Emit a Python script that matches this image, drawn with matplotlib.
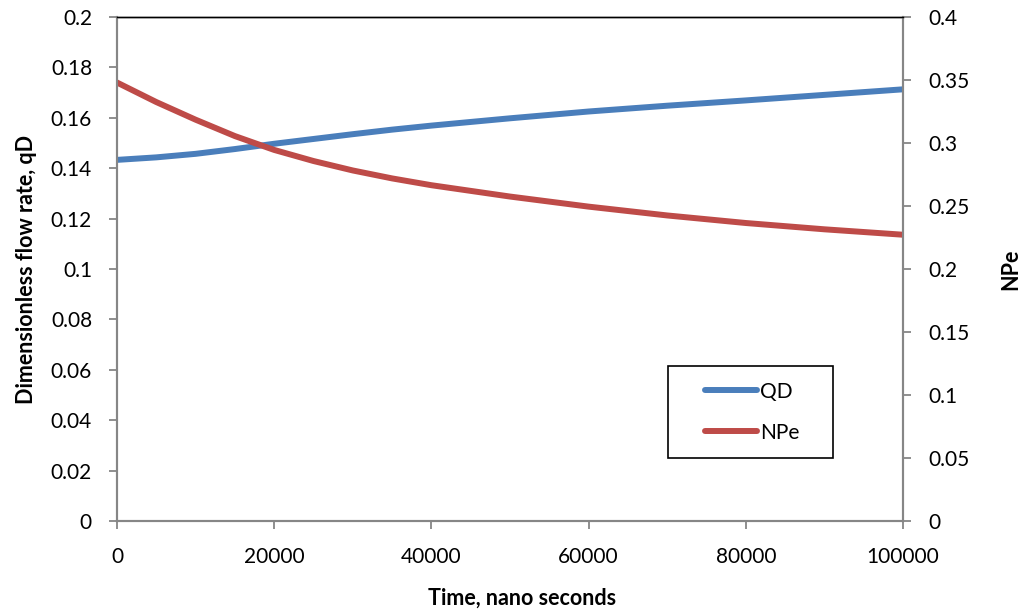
import matplotlib
matplotlib.use("Agg")
import matplotlib.pyplot as plt
from matplotlib.patches import Rectangle
from matplotlib.ticker import FuncFormatter

# Time in nanoseconds
time_ns = [0, 5000, 10000, 15000, 20000, 25000, 30000, 35000, 40000, 50000,
           60000, 70000, 80000, 90000, 100000]
# Dimensionless flow rate
qd = [0.1433, 0.1443, 0.1457, 0.1476, 0.1497, 0.1516, 0.1535, 0.1553, 0.1569,
      0.1598, 0.1625, 0.1648, 0.1669, 0.1691, 0.1713]
# Peclet number
npe = [0.348, 0.3325, 0.3185, 0.3055, 0.2945, 0.2857, 0.2782, 0.2719, 0.2665,
       0.2575, 0.2495, 0.2425, 0.2365, 0.2315, 0.2272]

x_ticks = [0, 20000, 40000, 60000, 80000, 100000]
left_ticks = [0, 0.02, 0.04, 0.06, 0.08, 0.1, 0.12, 0.14, 0.16, 0.18, 0.2]
right_ticks = [0, 0.05, 0.1, 0.15, 0.2, 0.25, 0.3, 0.35, 0.4]

plt.rcParams['font.family'] = ['Lato', 'DejaVu Sans']
BLUE = '#4A7EBB'
RED = '#BE4B48'
GRAY = '#868686'
FS = 15
LFS = 15.5

fig = plt.figure(figsize=(10.23, 6.16), dpi=100)
ax = fig.add_axes([117 / 1023, 1 - 521 / 616, 786 / 1023, 504 / 616])
ax2 = ax.twinx()

l1, = ax.plot(time_ns, qd, color=BLUE, lw=4.3, solid_capstyle='round', label='QD')
l2, = ax2.plot(time_ns, npe, color=RED, lw=4.3, solid_capstyle='round', label='NPe')

ax.set_xlim(0, 100000)
ax.set_ylim(0, 0.2)
ax2.set_ylim(0, 0.4)
ax.set_xticks(x_ticks)
ax.set_yticks(left_ticks)
ax2.set_yticks(right_ticks)
ax.xaxis.set_major_formatter(FuncFormatter(lambda v, p: f"{int(v)}"))
ax.yaxis.set_major_formatter(FuncFormatter(lambda v, p: f"{v:g}"))
ax2.yaxis.set_major_formatter(FuncFormatter(lambda v, p: f"{v:g}"))

for a in (ax, ax2):
    for side in ('left', 'right', 'bottom'):
        a.spines[side].set_color(GRAY)
        a.spines[side].set_linewidth(1.5)
    a.spines['top'].set_color('black')
    a.spines['top'].set_linewidth(1.0)
    a.tick_params(axis='both', direction='out', length=6, width=1.3,
                  color=GRAY, labelsize=FS, labelcolor='black')

ax.tick_params(axis='y', pad=12)
ax.tick_params(axis='x', pad=13)
ax2.tick_params(axis='y', pad=12)

ax.set_xlabel('Time, nano seconds', fontsize=LFS, fontweight='bold')
ax.xaxis.set_label_coords(0.515, -0.133)
ax.set_ylabel('Dimensionless flow rate, qD', fontsize=LFS, fontweight='bold', labelpad=10)
ax2.set_ylabel('NPe', fontsize=LFS, fontweight='bold', labelpad=22)

# Legend box with its entries centred inside
ax2.add_patch(Rectangle((0.701, 0.125), 0.210, 0.1825, transform=ax2.transAxes,
                        facecolor='white', edgecolor='black', linewidth=1.2,
                        zorder=5))
leg = ax2.legend(handles=[l1, l2], loc='center',
                 bbox_to_anchor=(0.808, 0.216), fontsize=FS,
                 frameon=False, handlelength=2.5, handletextpad=0.15,
                 labelspacing=1.0, borderpad=0, borderaxespad=0)
leg.set_zorder(6)
for h in leg.get_lines():
    h.set_linewidth(4.3)
    h.set_solid_capstyle('round')

fig.savefig('out.png', dpi=100)
